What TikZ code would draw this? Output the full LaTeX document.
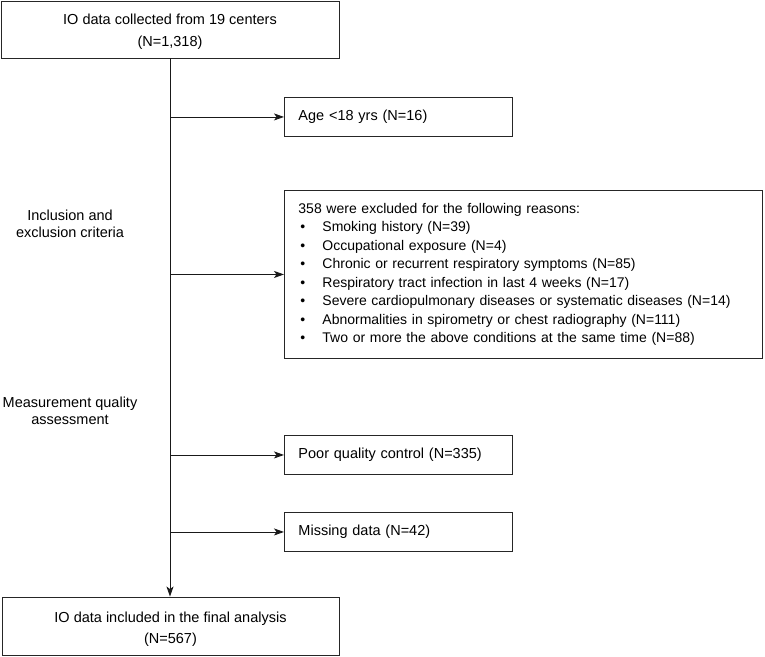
\documentclass[tikz,border=0pt]{standalone}
\usepackage{fontspec}
\setmainfont{Liberation Sans}
\usetikzlibrary{arrows.meta}
\begin{document}
\begin{tikzpicture}[x=1pt,y=-1pt,
  box/.style={draw=black!85, line width=0.9pt, rectangle, inner ysep=0pt,
    font=\fontsize{14.5}{21.5}\selectfont},
  sidebox/.style={box, anchor=north west, minimum width=228, minimum height=39,
    text width=200, inner xsep=14, align=left},
  txt/.style={align=center, inner sep=0pt, font=\fontsize{14.5}{21.5}\selectfont},
  lbl/.style={align=center, inner sep=0pt, font=\fontsize{14.5}{16.7}\selectfont},
  arr/.style={draw=black!90, line width=0.9pt, -{Stealth[length=10pt,width=7pt,inset=2.5pt]}}
]
\useasboundingbox (0,0) rectangle (765,656);

\node[box, minimum width=338, minimum height=57] (top) at (170,29.5) {};
\node[txt] (toptxt) at (170,31.5) {IO data collected from 19 centers\\(N=1,318)};

\node[sidebox] (age) at (284,97) {Age <18 yrs (N=16)};

\node[box, anchor=north west, minimum width=478, minimum height=168, text width=450,
  inner xsep=14, align=left, font=\fontsize{14}{18.5}\selectfont] (excl) at (284,190)
  {358 were excluded for the following reasons:\\
   \makebox[24pt][l]{\hspace{2pt}\textbullet}Smoking history (N=39)\\
   \makebox[24pt][l]{\hspace{2pt}\textbullet}Occupational exposure (N=4)\\
   \makebox[24pt][l]{\hspace{2pt}\textbullet}Chronic or recurrent respiratory symptoms (N=85)\\
   \makebox[24pt][l]{\hspace{2pt}\textbullet}Respiratory tract infection in last 4 weeks (N=17)\\
   \makebox[24pt][l]{\hspace{2pt}\textbullet}Severe cardiopulmonary diseases or systematic diseases (N=14)\\
   \makebox[24pt][l]{\hspace{2pt}\textbullet}Abnormalities in spirometry or chest radiography (N=111)\\
   \makebox[24pt][l]{\hspace{2pt}\textbullet}Two or more the above conditions at the same time (N=88)};

\node[sidebox] (poor) at (284,435) {Poor quality control (N=335)};
\node[sidebox] (miss) at (284,512) {Missing data (N=42)};

\node[box, minimum width=337, minimum height=58] (final) at (170.5,626) {};
\node[txt] (finaltxt) at (170.5,629) {IO data included in the final analysis\\(N=567)};

\node[lbl] (inc) at (70,223.5) {Inclusion and\\exclusion criteria};
\node[lbl] (meas) at (70,411) {Measurement quality\\assessment};

\draw[arr] (top.south) -- (top.south |- final.north);
\draw[arr] (age.west -| top.south) -- (age.west);
\draw[arr] (excl.west -| top.south) -- (excl.west);
\draw[arr] (poor.west -| top.south) -- (poor.west);
\draw[arr] (miss.west -| top.south) -- (miss.west);
\end{tikzpicture}
\end{document}
